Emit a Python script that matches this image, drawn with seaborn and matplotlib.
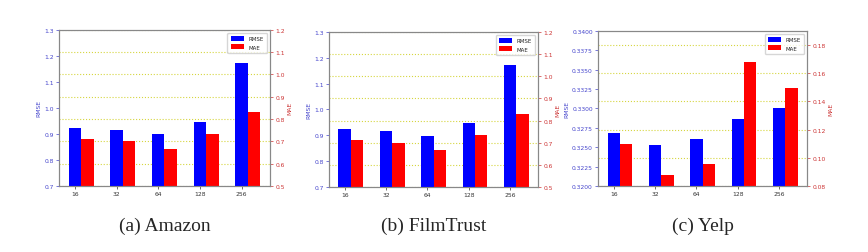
import numpy as np
import matplotlib
matplotlib.use("Agg")
import matplotlib.pyplot as plt
import seaborn as sns

# embedding sizes on the x axis
dims = ["16", "32", "64", "128", "256"]

# Amazon
amazon_rmse = [0.923, 0.917, 0.898, 0.946, 1.172]
amazon_mae = [0.712, 0.700, 0.667, 0.732, 0.832]

# FilmTrust
filmtrust_rmse = [0.923, 0.917, 0.898, 0.946, 1.172]
filmtrust_mae = [0.712, 0.700, 0.666, 0.733, 0.831]

# Yelp
yelp_rmse = [0.3268, 0.3253, 0.3260, 0.3287, 0.3300]
yelp_mae = [0.1098, 0.0880, 0.0953, 0.1676, 0.1497]

captions = ["(a) Amazon", "(b) FilmTrust", "(c) Yelp"]

sns.set_style("white")

BLUE_TXT = "#4444cc"
RED_TXT = "#cc3333"
SMALL = 4.3


def draw(fig, rect, rmse, mae, rmse_lim, rmse_ticks, mae_lim, mae_ticks, fmt_l, fmt_r, caption):
    ax = fig.add_axes(rect)
    ax2 = ax.twinx()
    pos = np.arange(len(dims))

    sns.barplot(x=pos, y=rmse, native_scale=True, width=0.3, color="blue",
                saturation=1, errorbar=None, linewidth=0, ax=ax, label="RMSE")
    sns.barplot(x=pos + 0.3, y=mae, native_scale=True, width=0.3, color="red",
                saturation=1, errorbar=None, linewidth=0, ax=ax2, label="MAE")
    for a in (ax, ax2):
        if a.get_legend() is not None:
            a.get_legend().remove()

    ax.set_xlim(-0.38, 4.68)
    ax.set_xticks(pos)
    ax.set_xticklabels(dims)
    ax.set_ylim(*rmse_lim)
    ax.set_yticks(rmse_ticks)
    ax.set_yticklabels([fmt_l.format(v) for v in rmse_ticks])
    ax2.set_ylim(*mae_lim)
    ax2.set_yticks(mae_ticks)
    ax2.set_yticklabels([fmt_r.format(v) for v in mae_ticks])

    ax.set_ylabel("RMSE", color=BLUE_TXT, fontsize=SMALL, labelpad=2)
    ax2.set_ylabel("MAE", color=RED_TXT, fontsize=SMALL, labelpad=2)
    ax.set_xlabel("")

    ax.tick_params(axis="y", colors=BLUE_TXT, labelsize=SMALL, length=2, width=0.5, pad=1.8, left=True)
    ax.tick_params(axis="x", colors="#333333", labelsize=SMALL, length=2, width=0.5, pad=1.8, bottom=True)
    ax2.tick_params(axis="y", colors=RED_TXT, labelsize=SMALL, length=2, width=0.5, pad=1.8, right=True)

    ax2.yaxis.grid(True, color="#d6d640", linestyle=":", linewidth=0.8)
    ax2.set_axisbelow(True)
    ax.grid(False)

    # keep the RMSE bars above the MAE grid
    ax.set_zorder(ax2.get_zorder() + 1)
    ax.patch.set_visible(False)

    for a in (ax, ax2):
        for s in a.spines.values():
            s.set_color("#888888")
            s.set_linewidth(0.8)

    h1, l1 = ax.get_legend_handles_labels()
    h2, l2 = ax2.get_legend_handles_labels()
    ax.legend(h1 + h2, l1 + l2, loc="upper right", fontsize=4, frameon=True,
              handlelength=2.4, handleheight=1.0, borderpad=0.6, labelspacing=0.5)

    fig.text(rect[0] + rect[2] / 2, 0.107, caption, ha="center", va="center",
             fontsize=14, family="Liberation Serif")


fig = plt.figure(figsize=(8.68, 2.53), dpi=100)

big_l = np.round(np.arange(0.7, 1.31, 0.1), 1)
big_r = np.round(np.arange(0.5, 1.21, 0.1), 1)
draw(fig, [0.068, 0.261, 0.243, 0.617], amazon_rmse, amazon_mae,
     (0.7, 1.3), big_l, (0.5, 1.2), big_r, "{:.1f}", "{:.1f}", captions[0])
draw(fig, [0.379, 0.257, 0.241, 0.613], filmtrust_rmse, filmtrust_mae,
     (0.7, 1.3), big_l, (0.5, 1.2), big_r, "{:.1f}", "{:.1f}", captions[1])
draw(fig, [0.689, 0.261, 0.241, 0.613], yelp_rmse, yelp_mae,
     (0.32, 0.34), np.arange(0.32, 0.34001, 0.0025), (0.08, 0.19),
     np.round(np.arange(0.08, 0.181, 0.02), 2), "{:.4f}", "{:.2f}", captions[2])

fig.savefig("out.png", dpi=100)
